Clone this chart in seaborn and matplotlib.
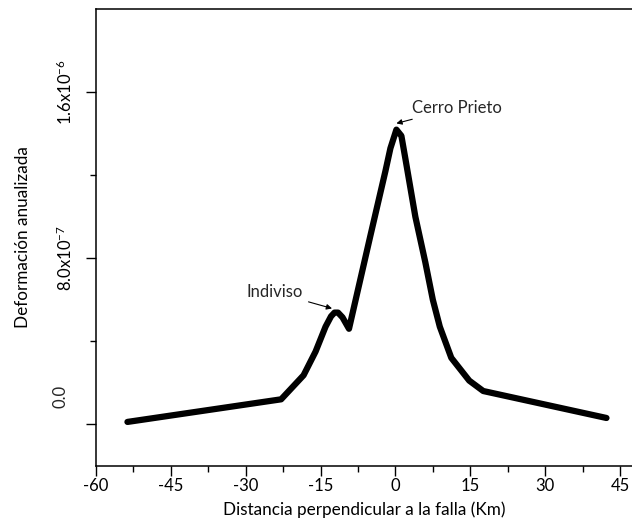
import matplotlib
matplotlib.use("Agg")
import matplotlib.pyplot as plt
import seaborn as sns
import pandas as pd
from matplotlib.ticker import MultipleLocator, FixedLocator

# Data (distance km, annualized strain)
distance = [-53.7, -22.9, -18.4, -16.0, -14.0, -12.9, -12.2, -11.5, -10.6, -9.3,
            -5.0, -2.0, -1.0, 0.2, 1.2, 2.0, 4.0, 6.0, 7.5, 8.9, 11.2,
            14.8, 17.6, 42.3]
strain = [0.011e-6, 0.12e-6, 0.236e-6, 0.35e-6, 0.47e-6, 0.52e-6, 0.538e-6,
          0.538e-6, 0.515e-6, 0.46e-6, 0.91e-6, 1.22e-6, 1.33e-6, 1.42e-6,
          1.39e-6, 1.28e-6, 1.0e-6, 0.78e-6, 0.60e-6, 0.47e-6, 0.32e-6,
          0.21e-6, 0.16e-6, 0.03e-6]
x_ticks = [-60, -45, -30, -15, 0, 15, 30, 45]
y_ticks = [0.0, 8.0e-7, 1.6e-6]
y_labels = ["", r"8.0x10$^{-7}$", r"1.6x10$^{-6}$"]

sns.set_theme(style="ticks")
plt.rcParams['font.family'] = ['Lato', 'DejaVu Sans']
plt.rcParams['axes.unicode_minus'] = False
plt.rcParams['mathtext.fontset'] = 'custom'
plt.rcParams['mathtext.rm'] = 'Lato'
plt.rcParams['mathtext.it'] = 'Lato'

df = pd.DataFrame({"x": distance, "y": strain})

fig = plt.figure(figsize=(6.32, 5.27), dpi=100)
ax = fig.add_axes([96/632, 1 - 465.7/527, 1 - 96/632, (465.7 - 9.3)/527])

sns.lineplot(data=df, x="x", y="y", sort=False, color="black", lw=4.5,
             ax=ax, solid_joinstyle="round", solid_capstyle="round")

ax.set_xlim(-60, (632 - 96) / 4.99 - 60)
ax.set_ylim(-2e-7, 2e-6)

ax.xaxis.set_major_locator(FixedLocator(x_ticks))
ax.xaxis.set_minor_locator(MultipleLocator(7.5))
ax.yaxis.set_major_locator(FixedLocator(y_ticks))
ax.yaxis.set_minor_locator(FixedLocator([4e-7, 1.2e-6]))
ax.set_yticklabels(y_labels, rotation=90, va="center")
ax.set_xticklabels([str(t) for t in x_ticks])

ax.tick_params(axis="both", which="major", direction="out", length=7,
               width=1.0, color="black", labelsize=12, labelcolor="black")
ax.tick_params(axis="x", which="major", pad=1.5)
ax.tick_params(axis="y", which="major", pad=8)
ax.tick_params(axis="both", which="minor", direction="out", length=4.5,
               width=1.0, color="black")

for s in ["left", "bottom", "top"]:
    ax.spines[s].set_linewidth(1.1)
    ax.spines[s].set_color("black")
ax.spines["right"].set_visible(False)

# 0.0 label placed slightly above its tick as in the reference
ax.text(-0.066, (424 - 396) / 207.7e6, "0.0", rotation=90, va="center",
        ha="center", fontsize=12, transform=ax.get_yaxis_transform())

ax.set_xlabel("Distancia perpendicular a la falla (Km)", fontsize=12.3,
              color="black", labelpad=6)
ax.set_ylabel("Deformación anualizada", fontsize=12.3, color="black",
              labelpad=18)

ax.annotate("Indiviso", xy=(-12.7, 0.558e-6), xytext=(-29.9, 0.636e-6),
            fontsize=12, va="center", ha="left",
            arrowprops=dict(arrowstyle="-|>", color="black", lw=0.8,
                            mutation_scale=8, shrinkA=2, shrinkB=0))
ax.annotate("Cerro Prieto", xy=(0.2, 1.45e-6), xytext=(3.3, 1.526e-6),
            fontsize=12, va="center", ha="left",
            arrowprops=dict(arrowstyle="-|>", color="black", lw=0.8,
                            mutation_scale=8, shrinkA=1, shrinkB=0))

fig.savefig("out.png", dpi=100)
